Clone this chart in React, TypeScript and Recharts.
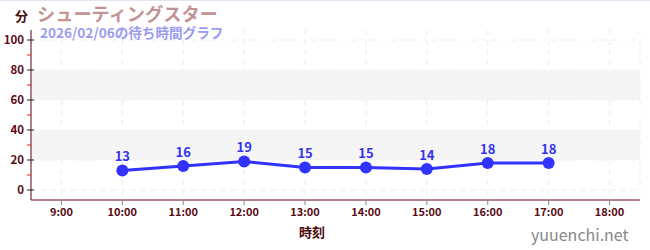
import React from 'react';
import { LineChart, Line, XAxis, YAxis, CartesianGrid, ReferenceArea, LabelList } from 'recharts';

const hours = ['9:00', '10:00', '11:00', '12:00', '13:00', '14:00', '15:00', '16:00', '17:00', '18:00'];
const waits: (number | null)[] = [null, 13, 16, 19, 15, 15, 14, 18, 18, null];
const yTicks = [0, 10, 20, 30, 40, 50, 60, 70, 80, 90, 100];
const gridValues = [0, 20, 40, 60, 80, 100];
const bands: [number, number][] = [[20, 40], [60, 80]];

const data = hours.map((h, i) => ({ i, h, v: waits[i] }));
const xTicks = hours.map((_, i) => i);

const font = '"Noto Sans CJK JP", "Noto Sans", sans-serif';
const maroon = '#5a0a14';

const YTick = (props: any) => {
    const { x, y, payload } = props;
    const major = payload.value % 20 === 0;
    // x is text anchor: axis - tickSize - tickMargin
    const ax = x + 7;
    if (!major) {
        return <line x1={ax - 4} x2={ax} y1={y} y2={y} stroke="#dd2222" strokeWidth={1} />;
    }
    return (
        <g>
            <line x1={ax - 4} x2={ax + 3} y1={y} y2={y} stroke="#222" strokeWidth={1} />
            <text x={x} y={y} dy={4} textAnchor="end" fontSize={11.5} fontWeight="bold" fill={maroon} fontFamily={font}>
                {payload.value}
            </text>
        </g>
    );
};

const App: React.FC = () => {
    return (
        <div style={{ position: 'absolute', left: 0, top: 0, width: 650, height: 250, fontFamily: font, borderTop: '1px solid #e4e4f4', boxSizing: 'border-box' }}>
            <LineChart width={650} height={250} data={data} margin={{ top: 30, right: 10, bottom: 0, left: 0 }} style={{ position: 'absolute', left: 0, top: -1 }}>
                {bands.map(([a, b]) => (
                    <ReferenceArea key={a} y1={a} y2={b} fill="#f5f5f5" fillOpacity={1} stroke="none" ifOverflow="hidden" />
                ))}
                <CartesianGrid strokeDasharray="5 5" stroke="#ececec" horizontalValues={gridValues} />
                <XAxis
                    dataKey="i"
                    type="number"
                    domain={[-0.5, hours.length - 0.5]}
                    ticks={xTicks}
                    interval={0}
                    tickFormatter={(i: number) => hours[i] ?? ''}
                    height={50}
                    stroke={maroon}
                    tickSize={5}
                    tickMargin={3}
                    tickLine={{ stroke: '#888' }}
                    tick={{ fontSize: 11, fontWeight: 'bold', fill: maroon, fontFamily: font }}
                />
                <YAxis
                    width={31}
                    domain={[-6.67, 106.67]}
                    ticks={yTicks}
                    interval={0}
                    stroke={maroon}
                    tickSize={5}
                    tickMargin={2}
                    tickLine={false}
                    tick={<YTick />}
                />
                <Line
                    dataKey="v"
                    stroke="#3333ff"
                    strokeWidth={3}
                    dot={{ r: 6, fill: '#3333ff', stroke: '#3333ff', strokeWidth: 0 }}
                    activeDot={false}
                    isAnimationActive={false}
                >
                    <LabelList dataKey="v" position="top" offset={9} fill="#3333ee" fontSize={13} fontWeight="bold" fontFamily={font} />
                </Line>
            </LineChart>
            <div style={{ position: 'absolute', left: 15, top: 5, fontSize: 13, fontWeight: 'bold', color: '#4a0a0a' }}>分</div>
            <div style={{ position: 'absolute', left: 37, top: 2, fontSize: 18.2, fontWeight: 'bold', color: '#c49494', lineHeight: '21px' }}>シューティングスター</div>
            <div style={{ position: 'absolute', left: 40, top: 23, fontSize: 13.6, fontWeight: 'bold', color: '#9a9cf0', lineHeight: '16px' }}>2026/02/06の待ち時間グラフ</div>
            <div style={{ position: 'absolute', left: 299, top: 222, fontSize: 13, fontWeight: 'bold', color: '#4a0a0a', lineHeight: '18px' }}>時刻</div>
            <div style={{ position: 'absolute', left: 531, top: 222, fontSize: 16, color: '#888', lineHeight: '22px' }}>yuuenchi.net</div>
        </div>
    );
};

export default App;
